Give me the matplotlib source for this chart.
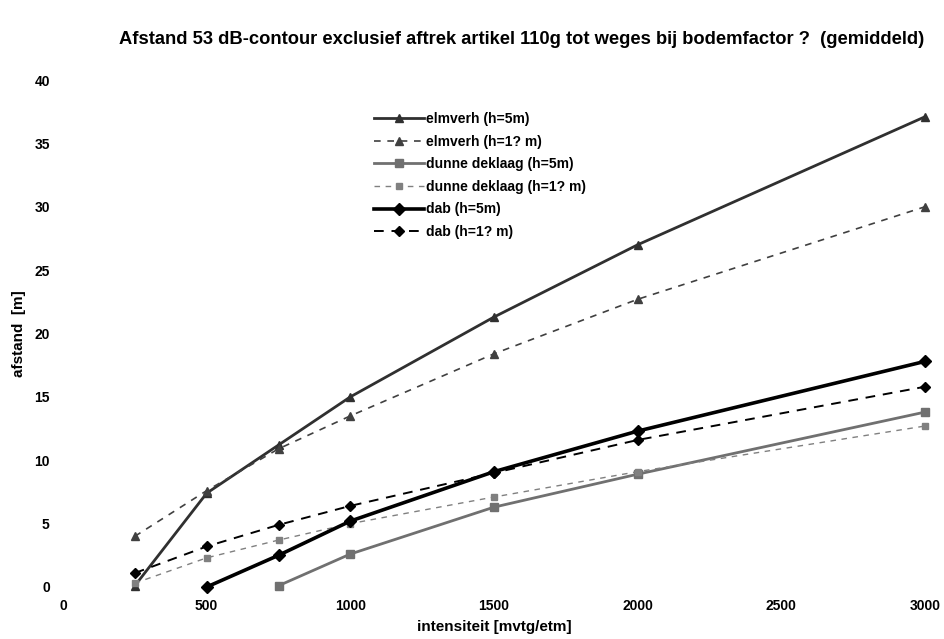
import matplotlib
matplotlib.use("Agg")
import matplotlib.pyplot as plt

plt.rcParams['font.family'] = ['Liberation Sans', 'DejaVu Sans']

intensiteit = [250, 500, 750, 1000, 1500, 2000, 3000]
elmverh_h5 = [0.1, 7.4, 11.2, 15.0, 21.3, 27.0, 37.1]
elmverh_h1 = [4.0, 7.6, 10.9, 13.5, 18.4, 22.7, 30.0]
dunne_x = [750, 1000, 1500, 2000, 3000]
dunne_h5 = [0.1, 2.6, 6.3, 8.9, 13.8]
dunne_h1 = [0.3, 2.3, 3.7, 5.0, 7.1, 9.1, 12.7]
dab_x = [500, 750, 1000, 1500, 2000, 3000]
dab_h5 = [0.0, 2.5, 5.2, 9.1, 12.3, 17.8]
dab_h1 = [1.1, 3.2, 4.9, 6.4, 9.0, 11.6, 15.8]

labels = ["elmverh (h=5m)", "elmverh (h=1? m)", "dunne deklaag (h=5m)",
          "dunne deklaag (h=1? m)", "dab (h=5m)", "dab (h=1? m)"]
xticks = [0, 500, 1000, 1500, 2000, 2500, 3000]
yticks = [0, 5, 10, 15, 20, 25, 30, 35, 40]

W, H = 944, 639
fig = plt.figure(figsize=(W / 100, H / 100), dpi=100)
ax = fig.add_axes([63 / W, 1 - 587 / H, (925 - 63) / W, (587 - 80) / H])

ax.plot(intensiteit, elmverh_h5, color='#303030', lw=2.0, ls='-', marker='^', ms=6, label=labels[0], clip_on=False)
ax.plot(intensiteit, elmverh_h1, color='#404040', lw=1.2, ls=(0, (4, 4)), marker='^', ms=6, label=labels[1], clip_on=False)
ax.plot(dunne_x, dunne_h5, color='#707070', lw=2.0, ls='-', marker='s', ms=6, label=labels[2], clip_on=False)
ax.plot(intensiteit, dunne_h1, color='#808080', lw=1.0, ls=(0, (4, 4)), marker='s', ms=5, label=labels[3], clip_on=False)
ax.plot(dab_x, dab_h5, color='black', lw=2.6, ls='-', marker='D', ms=6, label=labels[4], clip_on=False)
ax.plot(intensiteit, dab_h1, color='black', lw=1.4, ls=(0, (5, 4)), marker='D', ms=5, label=labels[5], clip_on=False)

ax.set_xlim(0, 3000)
ax.set_ylim(0, 40)
ax.set_xticks(xticks)
ax.set_yticks(yticks)
for s in ax.spines.values():
    s.set_visible(False)
ax.tick_params(length=0, labelsize=10)
for t in ax.get_xticklabels() + ax.get_yticklabels():
    t.set_fontweight('bold')
ax.tick_params(axis='x', pad=8.5)
ax.tick_params(axis='y', pad=9.5)

ax.set_xlabel("intensiteit [mvtg/etm]", fontsize=11, fontweight='bold', labelpad=5)
ax.set_ylabel("afstand  [m]", fontsize=11, fontweight='bold', labelpad=6)

fig.text(522 / W, 1 - 40 / H, "Afstand 53 dB-contour exclusief aftrek artikel 110g tot weges bij bodemfactor ?  (gemiddeld)",
         ha='center', va='center', fontsize=13.2, fontweight='bold')

leg = ax.legend(loc='upper left', bbox_to_anchor=(374 / W, 1 - 112 / H),
                bbox_transform=fig.transFigure, frameon=False, fontsize=10,
                handlelength=3.6, labelspacing=0.62, handletextpad=0.15,
                borderpad=0, borderaxespad=0)
for t in leg.get_texts():
    t.set_fontweight('bold')

fig.savefig("out.png", dpi=100, facecolor='white')
